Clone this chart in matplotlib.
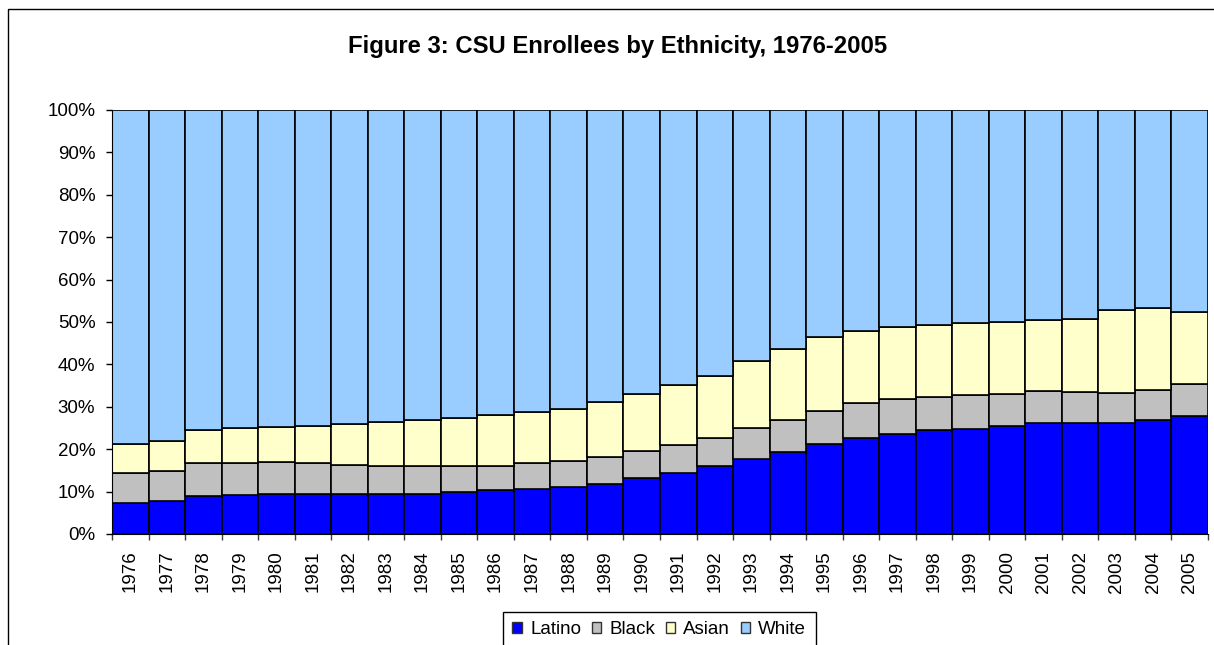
import numpy as np
from matplotlib import pyplot as plt
from matplotlib.patches import Patch, Rectangle

plt.rcParams['font.family'] = ['Liberation Sans', 'DejaVu Sans']

# data (share of enrollees, %)
years = [str(y) for y in range(1976, 2006)]
latino = [7.4, 7.7, 8.9, 9.2, 9.5, 9.5, 9.5, 9.5, 9.5, 9.9, 10.3, 10.6, 11.2, 11.9, 13.1,
          14.5, 16.0, 17.6, 19.4, 21.2, 22.7, 23.7, 24.5, 24.8, 25.5, 26.2, 26.1, 26.1, 26.9, 27.9]
black = [7.1, 7.2, 7.8, 7.5, 7.5, 7.2, 6.7, 6.5, 6.5, 6.1, 5.7, 6.1, 5.9, 6.2, 6.4,
         6.5, 6.7, 7.3, 7.6, 7.9, 8.2, 8.2, 7.9, 7.9, 7.6, 7.5, 7.5, 7.2, 7.1, 7.5]
asian = [6.7, 7.0, 7.9, 8.2, 8.2, 8.8, 9.7, 10.3, 10.9, 11.3, 12.0, 12.0, 12.4, 13.1, 13.5,
         14.2, 14.6, 16.0, 16.7, 17.4, 17.0, 17.0, 17.0, 17.1, 17.0, 16.7, 17.0, 19.5, 19.4, 17.0]
white = [78.8, 78.1, 75.4, 75.1, 74.8, 74.5, 74.1, 73.7, 73.1, 72.7, 72.0, 71.3, 70.5, 68.8, 67.0,
         64.8, 62.7, 59.1, 56.3, 53.5, 52.1, 51.1, 50.6, 50.2, 49.9, 49.6, 49.4, 47.2, 46.6, 47.6]

series = [("Latino", latino, "#0000FF"),
          ("Black", black, "#C0C0C0"),
          ("Asian", asian, "#FFFFCC"),
          ("White", white, "#99CCFF")]

W, H = 1214, 645
fig = plt.figure(figsize=(W/100, H/100), dpi=100)
ax = fig.add_axes([112/W, 1-534/H, (1208-112)/W, (534-110)/H])

# stacked 100% columns
x = np.arange(len(years))
total = np.sum([s[1] for s in series], axis=0)
bottom = np.zeros(len(years))
for name, vals, col in series:
    v = np.array(vals) / total * 100
    ax.bar(x, v, width=1.0, bottom=bottom, color=col, edgecolor="black", linewidth=1.2)
    bottom += v

ax.set_xlim(-0.5, len(years)-0.5)
ax.set_ylim(0, 100)
ax.set_yticks(range(0, 101, 10))
ax.set_yticklabels([f"{t}%" for t in range(0, 101, 10)], fontsize=13.5)
ax.tick_params(axis="y", direction="out", length=4, width=1, pad=8)

# category ticks between bars, labels centered
ax.set_xticks(np.arange(len(years)+1) - 0.5)
ax.set_xticklabels([])
ax.tick_params(axis="x", which="major", direction="out", length=4, width=1, color="#404040")
ax.set_xticks(x, minor=True)
ax.set_xticklabels(years, minor=True, rotation=90, fontsize=13.5)
ax.tick_params(axis="x", which="minor", length=0, pad=12)

ax.spines["top"].set_visible(False)
ax.spines["right"].set_visible(False)
ax.set_facecolor("white")

fig.text(617.5/W, 1-46/H, "Figure 3: CSU Enrollees by Ethnicity, 1976-2005",
         ha="center", va="center", fontsize=17.2, fontweight="bold")

# chart area border (cut off at right and bottom)
fig.add_artist(Rectangle((8/W, -0.5), 2.0, 0.5 + 1-9/H, transform=fig.transFigure,
                         fill=False, edgecolor="black", linewidth=1))

handles = [Patch(facecolor=c, edgecolor="#333333", linewidth=1) for _, _, c in series]
leg = fig.legend(handles, [s[0] for s in series], loc="upper left",
                 bbox_to_anchor=(503/W, 1-612/H), ncol=4, fontsize=13.5,
                 frameon=True, fancybox=False, edgecolor="black", framealpha=1,
                 handlelength=0.5, handleheight=0.5, handletextpad=0.45,
                 columnspacing=0.55, borderpad=0.5, borderaxespad=0)
leg.get_frame().set_linewidth(1)

plt.savefig("out.png", dpi=100)
